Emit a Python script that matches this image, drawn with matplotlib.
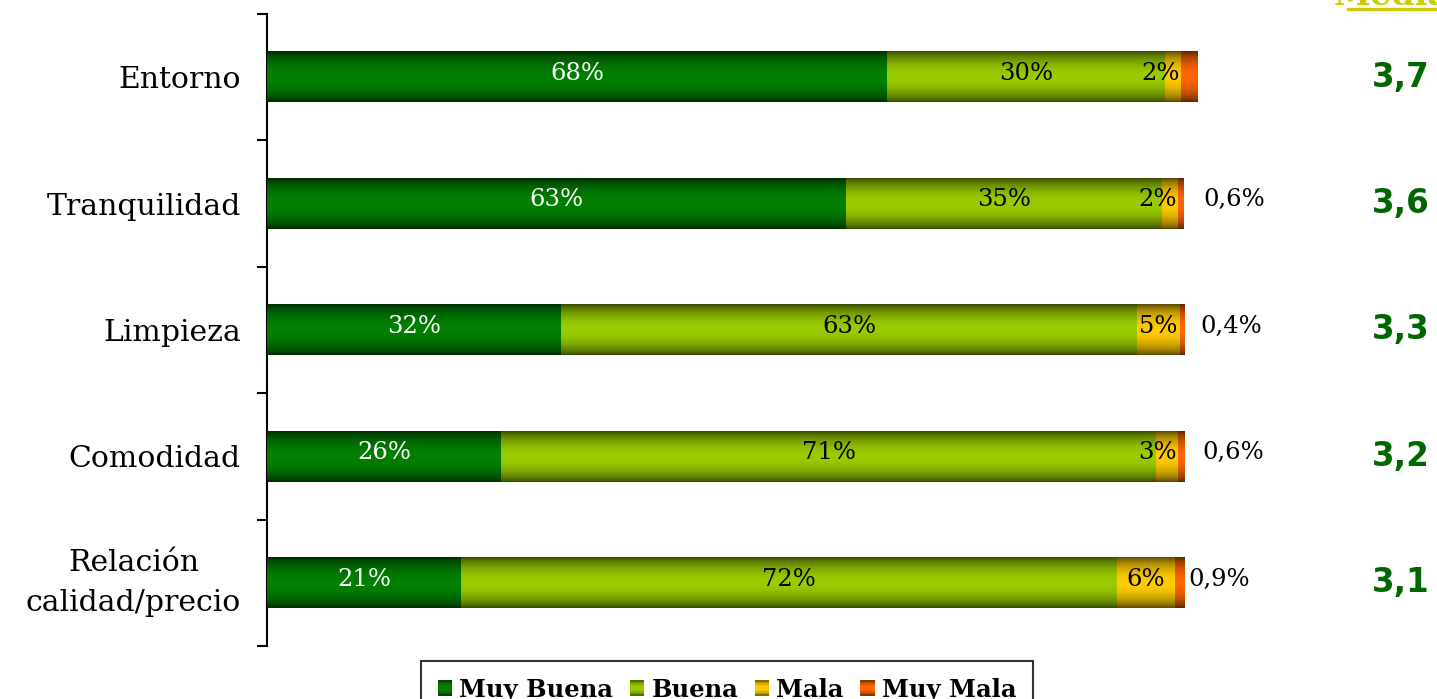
import numpy as np
import matplotlib.pyplot as plt
from matplotlib.colors import to_rgb
from matplotlib.patches import Patch, Rectangle
from matplotlib.lines import Line2D
from matplotlib.legend_handler import HandlerBase

# ---------------- data ----------------
categories = ["Entorno", "Tranquilidad", "Limpieza", "Comodidad", "Relación\ncalidad/precio"]
series_names = ["Muy Buena", "Buena", "Mala", "Muy Mala"]
muy_buena = [67.5, 63.0, 32.0, 25.5, 21.1]
buena = [30.2, 34.4, 62.7, 71.2, 71.4]
mala = [1.7, 1.7, 4.6, 2.4, 6.3]
muy_mala = [1.8, 0.6, 0.5, 0.7, 1.0]
labels_muy_buena = ["68%", "63%", "32%", "26%", "21%"]
labels_buena = ["30%", "35%", "63%", "71%", "72%"]
labels_mala = ["2%", "2%", "5%", "3%", "6%"]
labels_muy_mala = ["", "0,6%", "0,4%", "0,6%", "0,9%"]
medias = ["3,7", "3,6", "3,3", "3,2", "3,1"]
media_title = "Media"

# ---------------- style ----------------
colors = ["#008000", "#99CC00", "#FFCC00", "#FF6600"]
text_colors = ["white", "black", "black", "black"]
outside_gap = [0, 2.2, 1.7, 2.0, 0.4]   # gap (in %) of outside labels
serif = ["DejaVu Serif"]

W, H = 1437, 699
fig = plt.figure(figsize=(W / 100, H / 100), dpi=100)
ax_w_px = 1278 - 267
ax = fig.add_axes([267 / W, 1 - 646 / H, ax_w_px / W, (646 - 14) / H])
ax.set_xlim(0, 110)
ax.set_ylim(4.5, -0.5)

series = [muy_buena, buena, mala, muy_mala]
series_labels = [labels_muy_buena, labels_buena, labels_mala, labels_muy_mala]
y = np.arange(len(categories))
bar_h = 0.40

# vertical gradient profile (dark edges, bright centre)
t = np.linspace(0, 1, 64)
prof = 0.35 + 0.65 * np.clip(np.sin(np.pi * t) ** 0.7, 0, 1)


def gradient_img(color):
    c = np.array(to_rgb(color))
    img = prof[:, None, None] * c[None, None, :]
    return np.clip(img, 0, 1)


left = np.zeros(len(categories))
for s, (vals, col) in enumerate(zip(series, colors)):
    vals = np.array(vals)
    bars = ax.barh(y, vals, left=left, height=bar_h, color=col, edgecolor="none",
                   label=series_names[s], zorder=2, clip_on=False)
    img = gradient_img(col)
    for p in bars.patches:
        x0, y0 = p.get_x(), p.get_y()
        w, h = p.get_width(), p.get_height()
        im = ax.imshow(img, extent=[x0, x0 + w, y0 + h, y0], aspect="auto",
                       interpolation="bilinear", zorder=3, clip_on=False)
        im.set_clip_path(p)
    left = left + vals

# in-bar labels
left = np.zeros(len(categories))
for s, (vals, labs) in enumerate(zip(series, series_labels)):
    for i, (v, lab) in enumerate(zip(vals, labs)):
        if not lab:
            continue
        if s < 3:
            xc = min(left[i] + v / 2, left[i] + v - 2.2)
            ax.text(xc, i - 0.03, lab, ha="center", va="center", color=text_colors[s],
                    fontsize=17.5, family=serif, zorder=5)
        else:
            ax.text(left[i] + v + outside_gap[i], i - 0.03, lab, ha="left", va="center",
                    color="black", fontsize=17.5, family=serif, zorder=5)
    left = left + np.array(vals)

# axes style
for sp in ["top", "right", "bottom"]:
    ax.spines[sp].set_visible(False)
ax.spines["left"].set_linewidth(1.5)
ax.spines["left"].set_color("black")
ax.set_xticks([])
ax.set_yticks(np.arange(-0.5, len(categories), 1.0))
ax.set_yticklabels([])
ax.tick_params(axis="y", which="major", direction="out", length=7.5, width=1.5, color="black")

# category labels
for i, cat in enumerate(categories):
    ax.text(-26 / ax_w_px, i, cat, transform=ax.get_yaxis_transform(), ha="right",
            va="center" if "\n" in cat else "center_baseline", multialignment="center",
            linespacing=1.55, family=serif, fontsize=21.5, clip_on=False)

# media column
for i, m in enumerate(medias):
    fig.text(1430 / W, 1 - (77 + i * 126.4) / H, m, ha="right", va="center",
             color="#006600", fontsize=23.5, fontweight="bold", family=["DejaVu Sans"])
fig.text(1392 / W, 1 - 5 / H, media_title, ha="center", va="baseline", color="#CCCC00",
         fontsize=24, fontweight="bold", family=serif)
fig.add_artist(Line2D([1348 / W, 1 + 0.01], [1 - 8.5 / H, 1 - 8.5 / H], color="#CCCC00",
                      lw=2.4, transform=fig.transFigure))


# legend with gradient squares
class GradHandler(HandlerBase):
    def create_artists(self, legend, orig_handle, xdescent, ydescent, width, height,
                       fontsize, trans):
        c = np.array(to_rgb(orig_handle.get_facecolor()))
        n = 10
        arts = []
        tt = np.linspace(0, 1, n)
        pr = 0.35 + 0.65 * np.sin(np.pi * (tt * 0.9 + 0.05)) ** 0.7
        for k in range(n):
            r = Rectangle((-xdescent, -ydescent + height * k / n), width, height / n * 1.05,
                          facecolor=np.clip(c * pr[k], 0, 1), edgecolor="none", transform=trans)
            arts.append(r)
        return arts


handles = [Patch(facecolor=c, edgecolor="none") for c in colors]
leg = fig.legend(handles, series_names, loc="upper center", bbox_to_anchor=(727 / W, 1 - 661 / H),
                 borderaxespad=0, ncol=4, frameon=True, fancybox=False, edgecolor="black",
                 borderpad=0.68, handlelength=0.6, handleheight=0.6, handletextpad=0.3,
                 columnspacing=0.67, handler_map={Patch: GradHandler()},
                 prop={"family": "DejaVu Serif", "weight": "bold", "size": 17.5})
leg.get_frame().set_linewidth(1.5)

fig.savefig("out.png", dpi=100)
